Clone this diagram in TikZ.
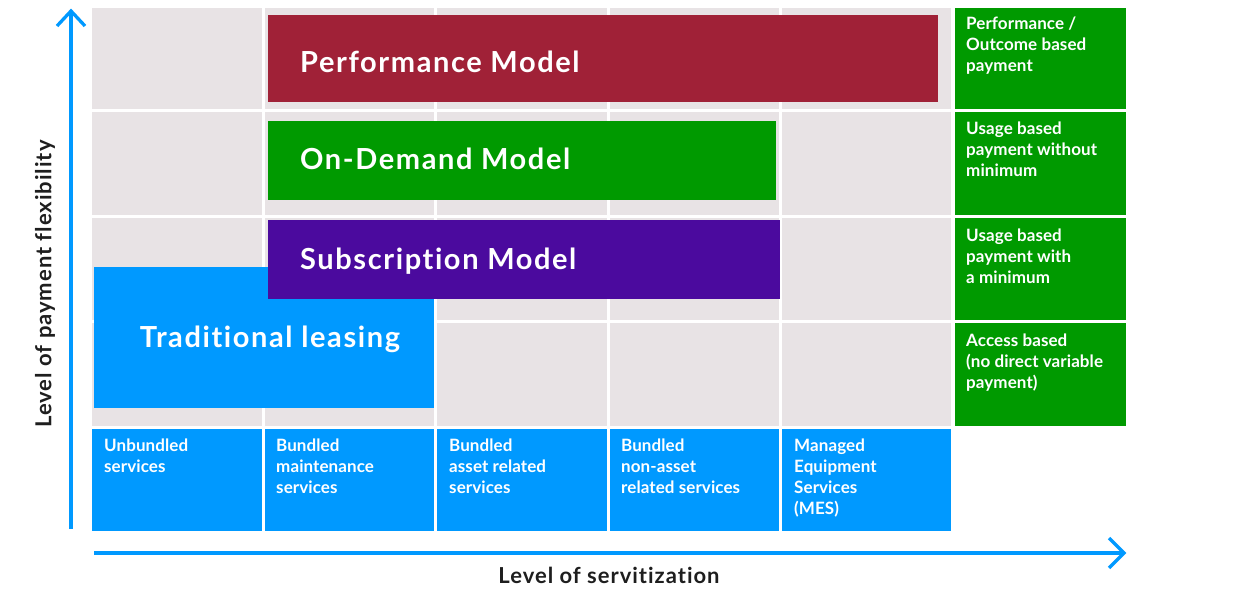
\documentclass[tikz,border=0pt]{standalone}
\usepackage{fontspec}
\setmainfont{Lato}[Ligatures=NoCommon]
\newfontfamily\bigfont{Lato}[LetterSpace=5.5, Ligatures=NoCommon]
\newfontfamily\axfont{Lato}[LetterSpace=4.5, Ligatures=NoCommon]
\newfontfamily\smallfont{Lato}[LetterSpace=0.5, Ligatures=NoCommon]
\usetikzlibrary{arrows.meta}
\definecolor{cellgrey}{HTML}{E8E3E5}
\definecolor{bblue}{HTML}{0099FF}
\definecolor{bgreen}{HTML}{009A00}
\definecolor{bred}{HTML}{A02137}
\definecolor{bpurple}{HTML}{4B0A9E}
\definecolor{dtext}{HTML}{1E1E1E}
\tikzset{
  cell/.style={fill=cellgrey},
  small/.style={font=\smallfont\fontsize{17}{21}\selectfont\bfseries, text=white, align=left, anchor=north west, inner sep=0pt},
  big/.style={font=\bigfont\fontsize{29}{34}\selectfont\bfseries, text=white, inner sep=0pt},
  axislabel/.style={font=\axfont\fontsize{22}{26}\selectfont\bfseries, text=dtext, inner sep=0pt},
  axisline/.style={draw=bblue, line width=3.3pt},
  chev/.style={draw=bblue, line width=3.3pt, line join=miter},
}
\begin{document}
\begin{tikzpicture}[x=1pt,y=-1pt]
\useasboundingbox[fill=white] (0,0) rectangle (1240,600);
% grid cells (rows 1-4, columns 1-5)
\foreach \xa/\xb in {92/262,265/434,437/607,610/779,782/951}{
  \foreach \ya/\yb in {8/109,112/215,218/320,323/426}{
    \fill[cell] (\xa,\ya) rectangle (\xb,\yb);
  }
}
% right green column
\foreach \ya/\yb in {8/109,112/215,218/320,323/426}{
  \fill[bgreen] (955,\ya) rectangle (1126,\yb);
}
% bottom blue row
\foreach \xa/\xb in {92/262,265/434,437/607,610/779,782/951}{
  \fill[bblue] (\xa,429) rectangle (\xb,531);
}
% model bars
\fill[bred] (268,15) rectangle (938,102);
\fill[bgreen] (268,121) rectangle (776,200);
\fill[bblue] (94,267) rectangle (434,408);
\fill[bpurple] (268,220) rectangle (780,299);

\node[big, anchor=base west] (perf) at (300,72) {Performance Model};
\node[big, anchor=base west] (ondem) at (300,169) {On-Demand Model};
\node[big, anchor=base west] (subs) at (300,269.5) {Subscription Model};
\node[big, anchor=base] (trad) at (270,347.5) {Traditional leasing};

% bottom labels
\node[small] (c1) at (104,439) {Unbundled\\services};
\node[small] (c2) at (276,439) {Bundled\\maintenance\\services};
\node[small] (c3) at (449,439) {Bundled\\asset related\\services};
\node[small] (c4) at (621,439) {Bundled\\non-asset\\related services};
\node[small] (c5) at (794,439) {Managed\\Equipment\\Services\\(MES)};

% right labels
\node[small] (r1) at (966,17) {Performance /\\Outcome based\\payment};
\node[small] (r2) at (966,122) {Usage based\\payment without\\minimum};
\node[small] (r3) at (966,229) {Usage based\\payment with\\a minimum};
\node[small] (r4) at (966,334) {Access based\\(no direct variable\\payment)};

% axes
\coordinate (vb) at (71,529);
\coordinate (vt) at (71,11);
\coordinate (vl) at (57,26);
\coordinate (vr) at (85,26);
\draw[axisline] (vb) -- (vt);
\draw[chev] (vl) -- (vt) -- (vr);
\coordinate (hl) at (94,553);
\coordinate (hr) at (1124,553);
\coordinate (hu) at (1109,538);
\coordinate (hd) at (1109,568);
\draw[axisline] (hl) -- (hr);
\draw[chev] (hu) -- (hr) -- (hd);

\node[axislabel, rotate=90] (ylab) at (45,284) {Level of payment flexibility};
\node[axislabel] (xlab) at (609,575) {Level of servitization};
\end{tikzpicture}
\end{document}
